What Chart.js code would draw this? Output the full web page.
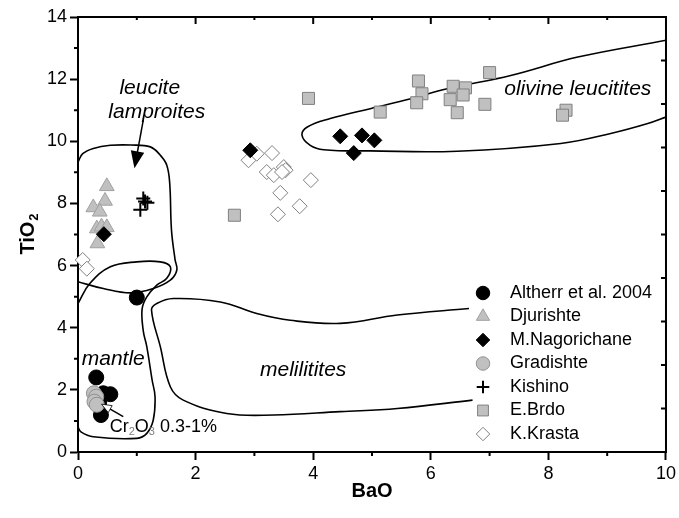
<!DOCTYPE html>
<html>
<head>
<meta charset="utf-8">
<script src="https://cdn.jsdelivr.net/npm/chart.js@4.4.0/dist/chart.umd.min.js"></script>
<style>
  html, body { margin: 0; padding: 0; background: #fff; }
</style>
</head>
<body>
<canvas id="chart" width="679" height="518"></canvas>
<script>
// ---------- DATA (BaO, TiO2) ----------
var altherr = [[1.0, 4.97], [0.31, 2.40], [0.43, 1.89], [0.55, 1.86], [0.36, 1.6], [0.39, 1.19]];
var djurishte = [[0.49, 8.55], [0.26, 7.87], [0.46, 8.08], [0.37, 7.73], [0.32, 7.19], [0.40, 7.25], [0.49, 7.23], [0.33, 6.71]];
var nagorichane = [[0.44, 7.01], [2.93, 9.71], [4.46, 10.16], [4.83, 10.19], [5.04, 10.03], [4.69, 9.62]];
var gradishte = [[0.27, 1.89], [0.31, 1.78], [0.28, 1.62], [0.32, 1.52]];
var kishino = [[1.11, 8.16], [1.06, 7.80], [1.18, 8.02], [1.14, 8.06]];
var ebrdo = [[2.66, 7.62], [3.92, 11.38], [5.14, 10.94], [5.79, 11.94], [5.85, 11.53], [5.76, 11.24], [6.38, 11.77],
             [6.59, 11.72], [6.55, 11.49], [6.33, 11.34], [6.45, 10.92], [6.92, 11.19], [7.0, 12.21], [8.30, 11.0], [8.24, 10.84]];
var kkrasta = [[2.90, 9.39], [3.04, 9.60], [3.30, 9.62], [3.21, 9.01], [3.33, 8.91], [3.50, 9.17], [3.53, 9.07], [3.47, 9.01],
               [3.96, 8.75], [3.44, 8.34], [3.77, 7.91], [3.40, 7.65], [0.08, 6.18], [0.15, 5.9]];

// field outlines
var lamproiteField = [[0, 5.48], [0.43, 5.26], [0.89, 5.12], [1.28, 5.26], [1.57, 5.53], [1.68, 5.85], [1.65, 6.2], [1.59, 7.14],
                      [1.56, 8.64], [1.51, 9.23], [1.4, 9.55], [1.23, 9.82], [0.9, 9.88], [0.55, 9.87], [0.26, 9.77], [0.08, 9.6], [0, 9.33]];
var mantleField = [[0, 4.78], [0.2, 5.42], [0.55, 5.96], [1.0, 6.12], [1.4, 6.12], [1.57, 5.96], [1.51, 5.59], [1.34, 5.37],
                   [1.17, 4.99], [1.09, 4.6], [1.11, 3.9], [1.17, 3.39], [1.26, 2.32], [1.31, 1.78], [1.28, 1.03], [1.17, 0.6],
                   [1.0, 0.44], [0.26, 0.49], [0.05, 0.65], [0, 0.8]];
var meliliteField = [[6.65, 4.62], [5.43, 4.41], [4.46, 4.14], [3.61, 4.24], [3.04, 4.46], [2.42, 4.83], [1.62, 4.94], [1.34, 4.78],
                     [1.25, 4.57], [1.4, 3.39], [1.57, 2.1], [1.79, 1.67], [2.53, 1.24], [3.33, 1.19], [4.46, 1.3], [5.43, 1.4], [6.71, 1.67]];
var olivineField = [[10, 13.25], [8.5, 12.71], [7.36, 12.12], [6.28, 11.69], [5.66, 11.37], [4.97, 11.05], [4.29, 10.73], [3.9, 10.46],
                    [3.81, 10.19], [3.95, 9.87], [4.18, 9.73], [4.97, 9.69], [6.45, 9.68], [8.21, 9.93], [9.06, 10.25], [9.69, 10.57], [10, 10.78]];

var xTicks = [0, 2, 4, 6, 8, 10];
var yTicks = [0, 2, 4, 6, 8, 10, 12, 14];

// labels on the plot, in data units
var notes = [
  { text: 'leucite', x: 1.22, y: 11.7 },
  { text: 'lamproites', x: 1.34, y: 10.93 },
  { text: 'mantle', x: 0.6, y: 2.98 },
  { text: 'melilitites', x: 3.83, y: 2.64 },
  { text: 'olivine leucitites', x: 8.5, y: 11.69 }
];
var lamproiteArrow = [[1.11, 10.68], [0.96, 9.13]];
var chromeArrow = [[0.77, 1.14], [0.40, 1.54]];
var chromeNote = { x: 0.54, y: 0.81 };

var FONT = "'Liberation Sans', Arial, sans-serif";

function toXY(pairs) {
  return pairs.map(function(p) { return { x: p[0], y: p[1] }; });
}

function field(pairs) {
  return {
    label: '', data: toXY(pairs), showLine: true, pointRadius: 0, borderColor: '#000',
    borderWidth: 1.6, tension: 0.4, fill: false, order: 50, legend: false
  };
}

function points(label, pairs, style, radius, fillColor, lineColor, order) {
  return {
    label: label, data: toXY(pairs), showLine: false, pointStyle: style, pointRadius: radius,
    pointHoverRadius: radius, backgroundColor: fillColor, borderColor: lineColor, borderWidth: 1,
    clip: false, order: order, legend: true
  };
}

var datasets = [
  points('Altherr et al. 2004', altherr, 'circle', 7.5, '#000', '#000', 10),
  points('Djurishte', djurishte, 'triangle', 8.5, '#c0c0c0', '#a0a0a0', 9),
  points('M.Nagorichane', nagorichane, 'rectRot', 7.5, '#000', '#000', 6),
  points('Gradishte', gradishte, 'circle', 7.5, '#c0c0c0', '#909090', 7),
  points('Kishino', kishino, 'cross', 7, '#000', '#000', 5),
  points('E.Brdo', ebrdo, 'rect', 8.5, '#c0c0c0', '#808080', 8),
  points('K.Krasta', kkrasta, 'rectRot', 7.5, '#fff', '#808080', 8),
  field(lamproiteField),
  field(mantleField),
  field(meliliteField),
  field(olivineField)
];
datasets[4].borderWidth = 2;

function arrow(ctx, chart, seg, head, fill) {
  var xs = chart.scales.x, ys = chart.scales.y;
  var x0 = xs.getPixelForValue(seg[0][0]), y0 = ys.getPixelForValue(seg[0][1]);
  var x1 = xs.getPixelForValue(seg[1][0]), y1 = ys.getPixelForValue(seg[1][1]);
  var ang = Math.atan2(y1 - y0, x1 - x0);
  ctx.strokeStyle = '#000';
  ctx.lineWidth = 1.5;
  ctx.beginPath();
  ctx.moveTo(x0, y0);
  ctx.lineTo(x1 - Math.cos(ang) * head * 0.8, y1 - Math.sin(ang) * head * 0.8);
  ctx.stroke();
  ctx.beginPath();
  ctx.moveTo(x1, y1);
  ctx.lineTo(x1 - Math.cos(ang) * head + Math.sin(ang) * head * 0.4, y1 - Math.sin(ang) * head - Math.cos(ang) * head * 0.4);
  ctx.lineTo(x1 - Math.cos(ang) * head - Math.sin(ang) * head * 0.4, y1 - Math.sin(ang) * head + Math.cos(ang) * head * 0.4);
  ctx.closePath();
  ctx.fillStyle = fill;
  ctx.fill();
  if (fill !== '#000') {
    ctx.lineWidth = 0.8;
    ctx.stroke();
  }
}

// text, arrows, frame, legend
var extras = {
  id: 'extras',
  afterDatasetsDraw: function(chart) {
    var ctx = chart.ctx, xs = chart.scales.x, ys = chart.scales.y;
    ctx.save();
    ctx.fillStyle = '#000';
    ctx.font = 'italic 21px ' + FONT;
    ctx.textAlign = 'center';
    ctx.textBaseline = 'middle';
    notes.forEach(function(n) {
      ctx.fillText(n.text, xs.getPixelForValue(n.x), ys.getPixelForValue(n.y));
    });

    arrow(ctx, chart, lamproiteArrow, 17, '#000');
    arrow(ctx, chart, chromeArrow, 10, '#fff');

    // Cr2O3 0.3-1%
    var cx = xs.getPixelForValue(chromeNote.x), cy = ys.getPixelForValue(chromeNote.y);
    var parts = [['Cr', 18, 0, '#000'], ['2', 11, 5, '#808080'], ['O', 18, 0, '#000'], ['3', 11, 5, '#808080'], [' 0.3-1%', 18, 0, '#000']];
    ctx.textAlign = 'left';
    parts.forEach(function(p) {
      ctx.font = p[1] + 'px ' + FONT;
      ctx.fillStyle = p[3];
      ctx.fillText(p[0], cx, cy + p[2]);
      cx += ctx.measureText(p[0]).width;
    });
    ctx.restore();
  },
  afterDraw: function(chart) {
    var ctx = chart.ctx, a = chart.chartArea, xs = chart.scales.x, ys = chart.scales.y;
    var v, x, y;
    ctx.save();
    ctx.strokeStyle = '#000';
    ctx.lineWidth = 2;
    ctx.beginPath();
    ctx.moveTo(a.left - 1, a.top);
    ctx.lineTo(a.right, a.top);
    ctx.lineTo(a.right, a.bottom + 1);
    // minor ticks outside on left and bottom
    for (v = 1; v < 14; v += 2) {
      y = ys.getPixelForValue(v);
      ctx.moveTo(a.left - 4, y); ctx.lineTo(a.left, y);
    }
    for (v = 1; v < 10; v += 2) {
      x = xs.getPixelForValue(v);
      ctx.moveTo(x, a.bottom); ctx.lineTo(x, a.bottom + 4);
    }
    // top axis ticks point inward
    for (v = 1; v < 10; v++) {
      x = xs.getPixelForValue(v);
      ctx.moveTo(x, a.top); ctx.lineTo(x, a.top + (v % 2 ? 3 : 7));
    }
    // right axis has ten even divisions
    for (v = 1; v < 10; v++) {
      y = ys.getPixelForValue(v * 1.4);
      ctx.moveTo(a.right - 5, y); ctx.lineTo(a.right, y);
    }
    ctx.stroke();

    // axis titles
    ctx.fillStyle = '#000';
    ctx.font = 'bold 20px ' + FONT;
    ctx.textAlign = 'center';
    ctx.textBaseline = 'middle';
    ctx.fillText('BaO', (a.left + a.right) / 2, 491);
    ctx.translate(28, (a.top + a.bottom) / 2);
    ctx.rotate(-Math.PI / 2);
    var w1 = ctx.measureText('TiO').width;
    ctx.font = 'bold 13px ' + FONT;
    var w2 = ctx.measureText('2').width;
    ctx.textAlign = 'left';
    ctx.fillText('2', (w1 - w2) / 2 + 1, 6);
    ctx.font = 'bold 20px ' + FONT;
    ctx.fillText('TiO', -(w1 + w2) / 2, 0);
    ctx.restore();

    // legend
    ctx.save();
    var rowY = 293;
    chart.data.datasets.forEach(function(ds) {
      if (!ds.legend) return;
      ctx.fillStyle = ds.backgroundColor;
      ctx.strokeStyle = ds.borderColor;
      ctx.lineWidth = ds.borderWidth;
      Chart.helpers.drawPoint(ctx, { pointStyle: ds.pointStyle, radius: ds.pointRadius * 0.9, rotation: 0, borderWidth: ds.borderWidth }, 483, rowY);
      ctx.fillStyle = '#000';
      ctx.font = '18px ' + FONT;
      ctx.textAlign = 'left';
      ctx.textBaseline = 'middle';
      ctx.fillText(ds.label, 510, rowY);
      rowY += 23.5;
    });
    ctx.restore();
  }
};

var ctx = document.getElementById('chart').getContext('2d');
var chart = new Chart(ctx, {
  type: 'scatter',
  data: { datasets: datasets },
  options: {
    responsive: false,
    animation: false,
    devicePixelRatio: 1,
    layout: { padding: { top: 17, right: 12, left: 0, bottom: 0 } },
    plugins: { legend: { display: false }, tooltip: { enabled: false } },
    scales: {
      x: {
        type: 'linear', min: 0, max: 10,
        afterBuildTicks: function(s) { s.ticks = xTicks.map(function(v) { return { value: v }; }); },
        afterFit: function(s) { s.height = 66; },
        ticks: { color: '#000', font: { family: FONT, size: 18 }, padding: 3, maxRotation: 0 },
        grid: { drawOnChartArea: false, tickLength: 8, tickColor: '#000', tickWidth: 2 },
        border: { color: '#000', width: 2 }
      },
      y: {
        type: 'linear', min: 0, max: 14,
        afterBuildTicks: function(s) { s.ticks = yTicks.map(function(v) { return { value: v }; }); },
        afterFit: function(s) { s.width = 78; },
        ticks: { color: '#000', font: { family: FONT, size: 18 }, padding: 3 },
        grid: { drawOnChartArea: false, tickLength: 8, tickColor: '#000', tickWidth: 2 },
        border: { color: '#000', width: 2 }
      }
    }
  },
  plugins: [extras]
});
</script>
</body>
</html>
